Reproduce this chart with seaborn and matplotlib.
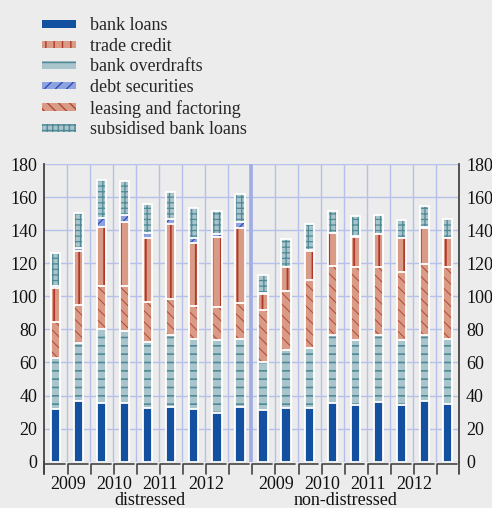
import matplotlib
matplotlib.use("Agg")
import matplotlib.pyplot as plt
import numpy as np
import pandas as pd
import seaborn as sns
from matplotlib.patches import Patch, Rectangle

# ---- data ----
groups = ["distressed", "non-distressed"]
years = ["2009", "2010", "2011", "2012"]

bank_loans_d = [32, 36.5, 35.5, 35.5, 32.5, 33, 32, 29.5, 33]
overdrafts_d = [30.5, 35.5, 44.5, 43.5, 40, 43.5, 42.5, 44, 41.5]
leasing_d = [22, 23, 26, 27.5, 24, 22, 19.5, 20, 21.5]
trade_d = [20.5, 32.5, 36, 38.5, 38.5, 45, 38.5, 42.5, 45.5]
debt_d = [1.5, 1.5, 5.5, 4, 3.5, 3, 3, 1.5, 3.5]
subsid_d = [20, 21.5, 23, 20.5, 17.5, 16.5, 18, 14, 17]

bank_loans_n = [31.5, 32.5, 32.5, 35.5, 34, 36, 34, 36.5, 35]
overdrafts_n = [28.5, 35, 36, 41, 39.5, 40.5, 39.5, 40, 39]
leasing_n = [31.5, 36, 41.5, 42, 44, 41, 41.5, 43, 44]
trade_n = [10, 14, 17.5, 19.5, 18.5, 20, 20, 22, 17]
debt_n = [0.3, 0.3, 0.3, 0.3, 0.3, 0.3, 0.3, 0.3, 0.3]
subsid_n = [11, 17, 16, 13.5, 12, 11.5, 11, 13, 11.5]

legend_order = ["bank loans", "trade credit", "bank overdrafts",
                "debt securities", "leasing and factoring", "subsidised bank loans"]
stack_order = ["bank loans", "bank overdrafts", "leasing and factoring",
               "trade credit", "debt securities", "subsidised bank loans"]

df = pd.DataFrame({
    "bank loans": bank_loans_d + bank_loans_n,
    "bank overdrafts": overdrafts_d + overdrafts_n,
    "leasing and factoring": leasing_d + leasing_n,
    "trade credit": trade_d + trade_n,
    "debt securities": debt_d + debt_n,
    "subsidised bank loans": subsid_d + subsid_n,
})
df["slot"] = range(len(df))
n_per_group = len(bank_loans_d)

# face colour, hatch colour, hatch, hatch linewidth
styles = {
    "bank loans": ("#1450A0", "#1450A0", None, 1.0),
    "trade credit": ("#D99A86", "#B0382A", "||", 1.3),
    "bank overdrafts": ("#A9C4CB", "#4F8A95", "--", 1.2),
    "debt securities": ("#8FA2E0", "#2F4FB0", "///", 0.9),
    "leasing and factoring": ("#D99A86", "#B04A36", "\\\\\\", 0.7),
    "subsidised bank loans": ("#A9C4CB", "#4F8A95", "+++", 0.9),
}

bg = "#ECECEC"
grid_c = "#B7C0EA"
txt_c = "#111111"

sns.set_theme(style="white", rc={"axes.facecolor": bg, "figure.facecolor": bg})
plt.rcParams["font.family"] = ["Liberation Serif", "DejaVu Serif"]

fig = plt.figure(figsize=(4.92, 5.08), dpi=100, facecolor=bg)
ax = fig.add_axes([0.0894, 0.0911, 0.8435, 0.586])

# stacked bars: draw cumulative totals from the top layer down
cum = df[stack_order].cumsum(axis=1)
for name in reversed(stack_order):
    face, hcol, hatch, hlw = styles[name]
    plt.rcParams["hatch.linewidth"] = hlw
    n0 = len(ax.patches)
    sns.barplot(x=df["slot"], y=cum[name], color=face, width=0.4,
                saturation=1, errorbar=None, ax=ax, zorder=3)
    for p in list(ax.patches[n0:]):
        p.set_facecolor(face)
        p.set_edgecolor(hcol)
        p.set_hatch(hatch)
        p.set_linewidth(0)
        ax.add_patch(Rectangle(p.get_xy(), p.get_width(), p.get_height(),
                               fill=False, ec="white", lw=1.3, zorder=3))
plt.rcParams["hatch.linewidth"] = 1.0

n = len(df)
ax.set_xlim(-0.5, n - 0.5)
ax.set_ylim(0, 180)
ax.set_xlabel("")
ax.set_ylabel("")

# grid
ax.set_axisbelow(True)
ax.set_yticks(range(0, 181, 20))
ax.yaxis.grid(True, color=grid_c, lw=1)
ax.set_xticks([])
ax.set_xticks(np.arange(n - 1) + 0.5, minor=True)
ax.xaxis.grid(True, which="minor", color=grid_c, lw=1)
ax.axvline(n_per_group - 0.5, color="#A0ADE4", lw=2.6, zorder=1)

for s in ["top", "bottom"]:
    ax.spines[s].set_visible(False)
for s in ["left", "right"]:
    ax.spines[s].set_color("#444444")
    ax.spines[s].set_linewidth(1.3)

ax.tick_params(axis="y", which="both", length=0, left=False, right=False,
               labelleft=True, labelright=True, labelsize=13, pad=5,
               colors=txt_c)
ax.tick_params(axis="x", which="both", length=0)

# bracket-style x axis
trans = ax.get_xaxis_transform()
for i in range(n):
    x0 = i - 0.5 if i == 0 else i - 0.46
    ax.plot([x0, x0, i + 0.4], [-0.042, -0.009, -0.009], transform=trans,
            clip_on=False, color="#444444", lw=1.2)
ax.plot([n - 0.5, n - 0.5], [0, -0.042], transform=trans, clip_on=False,
        color="#444444", lw=1.3)
ax.plot([-0.5, -0.5], [0, -0.042], transform=trans, clip_on=False,
        color="#444444", lw=1.3)

for g in range(len(groups)):
    for k, yr in enumerate(years):
        ax.text(g * n_per_group + 2 * k + 0.55, -0.093, yr, transform=trans,
                ha="center", va="baseline", fontsize=13, color=txt_c)
ax.text(4.1, -0.146, groups[0], transform=trans, ha="center", va="baseline",
        fontsize=13, color=txt_c)
ax.text(12.6, -0.146, groups[1], transform=trans, ha="center", va="baseline",
        fontsize=13, color=txt_c)

# legend
handles = []
for name in legend_order:
    face, hcol, hatch, hlw = styles[name]
    handles.append(Patch(facecolor=face, edgecolor=hcol, hatch=hatch, lw=0))
fig.legend(handles, legend_order, loc="upper left",
           bbox_to_anchor=(0.0854, 0.966), frameon=False, fontsize=13,
           handlelength=1.9, handleheight=0.28, handletextpad=0.75,
           labelspacing=0.2, borderpad=0, borderaxespad=0)

fig.savefig("out.png", dpi=100, facecolor=bg)
